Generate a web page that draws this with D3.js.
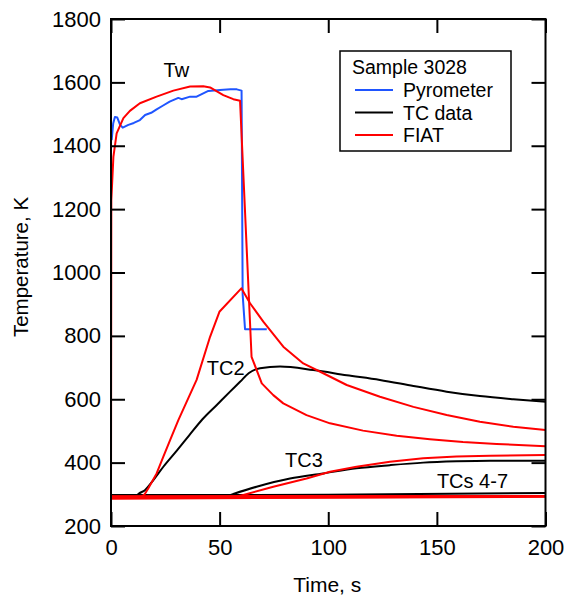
<!DOCTYPE html>
<html>
<head>
<meta charset="utf-8">
<script src="https://cdn.jsdelivr.net/npm/d3@7/dist/d3.min.js"></script>
<style>
  html, body { margin: 0; padding: 0; background: #fff; }
  svg { display: block; font-family: "Liberation Sans", Arial, sans-serif; }
</style>
</head>
<body>
<svg id="chart" width="568" height="601"></svg>
<script>
// Axis ticks
const timeTicks = [0, 50, 100, 150, 200];
const tempTicks = [200, 400, 600, 800, 1000, 1200, 1400, 1600, 1800];

// Pyrometer reading of the wall temperature Tw, [time s, temperature K]
const pyrometerTw = [
  [0.3, 1418], [1.0, 1470], [1.8, 1491], [2.9, 1489], [4.2, 1466], [5.4, 1457],
  [8.0, 1466], [10.5, 1472], [13.3, 1481], [15.7, 1497], [18.5, 1504], [21, 1515],
  [24, 1527], [27, 1539], [31, 1551], [32.5, 1547], [36.4, 1555], [39.4, 1555],
  [42, 1564], [44.8, 1573], [50.2, 1576], [55, 1578], [57.9, 1578], [60.1, 1574],
  [60.6, 930], [61.7, 821], [71.7, 821]
];

// Thermocouple data
const tc2Data = [
  [0, 297], [12, 297], [12.6, 301], [15.6, 313], [19.5, 345], [24.1, 387],
  [30.2, 437], [36, 486], [42, 536], [48.7, 582], [54.8, 624], [59.4, 655],
  [63.5, 683], [68.6, 698], [77.8, 703], [93.1, 692], [108.5, 676], [123.8, 661],
  [139.2, 642], [154.5, 624], [169.8, 610], [185.2, 600], [200, 592]
];
const tc3Data = [
  [0, 297], [55, 298], [56.3, 301], [67, 324], [82.4, 350], [97.7, 366],
  [113, 382], [128.4, 392], [143.7, 400], [159, 404], [174.5, 406], [200, 406]
];
const tc47Data = [
  [0, 297], [100, 299], [200, 304]
];

// FIAT predictions
const fiatTw = [
  [0, 285], [0.15, 1229], [1.1, 1365], [2.6, 1439], [5.7, 1487], [8.7, 1510],
  [13.3, 1534], [21, 1555], [28.7, 1574], [36.4, 1587], [42.5, 1588], [45.6, 1584],
  [51.7, 1560], [56.3, 1547], [59.4, 1542], [64.7, 734], [69.4, 650], [74.7, 613],
  [79.3, 587], [90, 550], [100.8, 524], [116, 501], [131.5, 485], [146.8, 474],
  [162, 465], [177.5, 459], [200, 452]
];
const fiatTc2 = [
  [0, 292], [14, 292], [15.5, 300], [17.2, 319], [21, 366], [24.1, 419],
  [27.2, 471], [31, 534], [39.4, 661], [45.6, 797], [49.9, 876], [60, 950],
  [64, 903], [70.1, 845], [79.3, 766], [88.5, 713], [97.7, 682], [108.5, 645],
  [123.8, 608], [139.2, 576], [154.5, 550], [169.8, 529], [185.2, 513], [200, 503]
];
const fiatTc3 = [
  [0, 292], [58, 293], [60.9, 298], [74.7, 324], [90, 350], [100.8, 371],
  [113, 387], [128.4, 403], [143.7, 414], [159, 419], [174.5, 422], [200, 424]
];
const fiatTc4 = [[0, 294], [200, 295]];
const fiatTc5 = [[0, 289], [100, 291], [200, 293]];
const fiatTc6 = [[0, 286], [100, 289], [200, 292]];

const legendItems = [
  { label: "Pyrometer", color: "#1f55ff" },
  { label: "TC data", color: "#000000" },
  { label: "FIAT", color: "#ff0000" }
];

const svg = d3.select("#chart");
const margin = { left: 111, right: 22.5, top: 19, bottom: 75 };
const W = 568, H = 601;

const x = d3.scaleLinear().domain([0, 200]).range([margin.left, W - margin.right]);
const y = d3.scaleLinear().domain([200, 1800]).range([H - margin.bottom, margin.top]);

const BLUE = "#1f55ff", RED = "#ff0000", BLACK = "#000000";

const plot = svg.append("g");

function drawLine(data, color, curve) {
  const gen = d3.line().x(d => x(d[0])).y(d => y(d[1])).curve(curve);
  plot.append("path")
    .attr("d", gen(data))
    .attr("fill", "none")
    .attr("stroke", color)
    .attr("stroke-width", 2)
    .attr("stroke-linejoin", "round");
}

// thermocouple measurements
[tc47Data, tc3Data, tc2Data].forEach(d => drawLine(d, BLACK, d3.curveMonotoneX));
// pyrometer
drawLine(pyrometerTw, BLUE, d3.curveLinear);
// model results
[fiatTc6, fiatTc5, fiatTc4, fiatTc3, fiatTc2, fiatTw].forEach(d => drawLine(d, RED, d3.curveLinear));

// axes with inward ticks on all four sides
const TICK = 14;
const axisStyle = g => {
  g.select(".domain").remove();
  g.selectAll(".tick line").attr("stroke", "#000").attr("stroke-width", 2);
  g.selectAll(".tick text").attr("fill", "#000").attr("font-size", 22)
    .attr("font-family", "Liberation Sans, Arial, sans-serif");
};

svg.append("g")
  .attr("transform", `translate(0,${y(200)})`)
  .call(d3.axisBottom(x).tickValues(timeTicks).tickSize(-TICK).tickPadding(13).tickFormat(d3.format("d")))
  .call(axisStyle);
svg.append("g")
  .attr("transform", `translate(0,${y(1800)})`)
  .call(d3.axisTop(x).tickValues(timeTicks).tickSize(-TICK).tickFormat(""))
  .call(axisStyle);
svg.append("g")
  .attr("transform", `translate(${x(0)},0)`)
  .call(d3.axisLeft(y).tickValues(tempTicks).tickSize(-TICK).tickPadding(10).tickFormat(d3.format("d")))
  .call(axisStyle);
svg.append("g")
  .attr("transform", `translate(${x(200)},0)`)
  .call(d3.axisRight(y).tickValues(tempTicks).tickSize(-TICK).tickFormat(""))
  .call(axisStyle);

// plot frame
svg.append("rect")
  .attr("x", x(0)).attr("y", y(1800))
  .attr("width", x(200) - x(0)).attr("height", y(200) - y(1800))
  .attr("fill", "none").attr("stroke", "#000").attr("stroke-width", 2);

// axis titles
svg.append("text")
  .attr("x", (x(0) + x(200)) / 2 - 1).attr("y", 591.5)
  .attr("text-anchor", "middle").attr("font-size", 21)
  .text("Time, s");
svg.append("text")
  .attr("transform", `translate(27.5,${267}) rotate(-90)`)
  .attr("text-anchor", "middle").attr("font-size", 20.5)
  .text("Temperature, K");

// curve annotations
const notes = [
  { text: "Tw", t: 24.2, T: 1618 },
  { text: "TC2", t: 44.1, T: 676 },
  { text: "TC3", t: 80.1, T: 387 },
  { text: "TCs 4-7", t: 150, T: 319 }
];
svg.selectAll(".note").data(notes).enter().append("text")
  .attr("class", "note")
  .attr("x", d => x(d.t)).attr("y", d => y(d.T))
  .attr("font-size", 20)
  .text(d => d.text);

// legend
const lg = svg.append("g");
lg.append("rect")
  .attr("x", 340).attr("y", 51).attr("width", 171).attr("height", 100)
  .attr("fill", "#fff").attr("stroke", "#000").attr("stroke-width", 1.5);
lg.append("text").attr("x", 352).attr("y", 73.5).attr("font-size", 19.5).text("Sample 3028");
legendItems.forEach((item, i) => {
  const ly = 90 + i * 22.5;
  lg.append("line")
    .attr("x1", 355).attr("x2", 393).attr("y1", ly).attr("y2", ly)
    .attr("stroke", item.color).attr("stroke-width", 2);
  lg.append("text")
    .attr("x", 403).attr("y", ly + 7.2).attr("font-size", 19.5)
    .text(item.label);
});
</script>
</body>
</html>
